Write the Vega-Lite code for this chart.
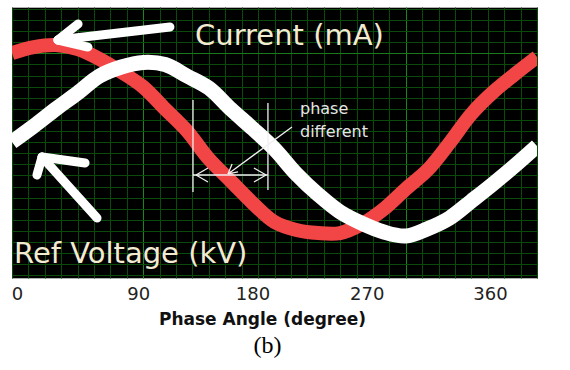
{
  "$schema": "https://vega.github.io/schema/vega-lite/v6.json",
  "width": 525,
  "height": 271,
  "autosize": "none",
  "padding": {"left": 12, "top": 7, "right": 33, "bottom": 92},
  "background": "white",
  "config": {"view": {"fill": "black", "stroke": "#b0b0b0", "strokeWidth": 1}},
  "title": {"text": "(b)", "orient": "bottom", "anchor": "middle", "font": "Liberation Serif", "fontSize": 24, "fontWeight": "normal", "color": "#000000", "offset": 7, "dx": -7},
  "datasets": {
    "curves": [
      {"deg": 0, "series": "Current (mA)", "value": 1.032},
      {"deg": 15, "series": "Current (mA)", "value": 1.101},
      {"deg": 30, "series": "Current (mA)", "value": 1.124},
      {"deg": 45, "series": "Current (mA)", "value": 1.078},
      {"deg": 60, "series": "Current (mA)", "value": 0.963},
      {"deg": 75, "series": "Current (mA)", "value": 0.813},
      {"deg": 90, "series": "Current (mA)", "value": 0.64},
      {"deg": 105, "series": "Current (mA)", "value": 0.386},
      {"deg": 120, "series": "Current (mA)", "value": 0.133},
      {"deg": 135, "series": "Current (mA)", "value": -0.19},
      {"deg": 150, "series": "Current (mA)", "value": -0.444},
      {"deg": 165, "series": "Current (mA)", "value": -0.698},
      {"deg": 180, "series": "Current (mA)", "value": -0.917},
      {"deg": 195, "series": "Current (mA)", "value": -1.009},
      {"deg": 210, "series": "Current (mA)", "value": -1.044},
      {"deg": 225, "series": "Current (mA)", "value": -1.044},
      {"deg": 240, "series": "Current (mA)", "value": -0.94},
      {"deg": 255, "series": "Current (mA)", "value": -0.767},
      {"deg": 270, "series": "Current (mA)", "value": -0.536},
      {"deg": 285, "series": "Current (mA)", "value": -0.317},
      {"deg": 300, "series": "Current (mA)", "value": -0.006},
      {"deg": 315, "series": "Current (mA)", "value": 0.329},
      {"deg": 330, "series": "Current (mA)", "value": 0.582},
      {"deg": 345, "series": "Current (mA)", "value": 0.79},
      {"deg": 360, "series": "Current (mA)", "value": 0.986},
      {"deg": 0, "series": "Ref Voltage (kV)", "value": 0.006},
      {"deg": 15, "series": "Ref Voltage (kV)", "value": 0.19},
      {"deg": 30, "series": "Ref Voltage (kV)", "value": 0.386},
      {"deg": 45, "series": "Ref Voltage (kV)", "value": 0.571},
      {"deg": 60, "series": "Ref Voltage (kV)", "value": 0.767},
      {"deg": 75, "series": "Ref Voltage (kV)", "value": 0.871},
      {"deg": 90, "series": "Ref Voltage (kV)", "value": 0.923},
      {"deg": 105, "series": "Ref Voltage (kV)", "value": 0.899},
      {"deg": 120, "series": "Ref Voltage (kV)", "value": 0.767},
      {"deg": 135, "series": "Ref Voltage (kV)", "value": 0.628},
      {"deg": 150, "series": "Ref Voltage (kV)", "value": 0.386},
      {"deg": 165, "series": "Ref Voltage (kV)", "value": 0.161},
      {"deg": 180, "series": "Ref Voltage (kV)", "value": -0.075},
      {"deg": 195, "series": "Ref Voltage (kV)", "value": -0.363},
      {"deg": 210, "series": "Ref Voltage (kV)", "value": -0.601},
      {"deg": 225, "series": "Ref Voltage (kV)", "value": -0.801},
      {"deg": 240, "series": "Ref Voltage (kV)", "value": -0.932},
      {"deg": 255, "series": "Ref Voltage (kV)", "value": -1.032},
      {"deg": 270, "series": "Ref Voltage (kV)", "value": -1.078},
      {"deg": 285, "series": "Ref Voltage (kV)", "value": -0.994},
      {"deg": 300, "series": "Ref Voltage (kV)", "value": -0.871},
      {"deg": 315, "series": "Ref Voltage (kV)", "value": -0.675},
      {"deg": 330, "series": "Ref Voltage (kV)", "value": -0.475},
      {"deg": 345, "series": "Ref Voltage (kV)", "value": -0.264},
      {"deg": 360, "series": "Ref Voltage (kV)", "value": -0.04}
    ],
    "bigArrows": [
      {"deg": 108.3, "value": 1.332, "deg2": 31.5, "value2": 1.182},
      {"deg": 31.5, "value": 1.182, "deg2": 45.3, "value2": 1.366},
      {"deg": 31.5, "value": 1.182, "deg2": 52.1, "value2": 1.101},
      {"deg": 58.3, "value": -0.871, "deg2": 20.6, "value2": -0.167},
      {"deg": 20.6, "value": -0.167, "deg2": 17.1, "value2": -0.375},
      {"deg": 20.6, "value": -0.167, "deg2": 50.1, "value2": -0.236}
    ],
    "phaseMarks": [
      {"deg": 124.1, "value": 0.49, "deg2": 124.1, "value2": -0.571},
      {"deg": 175.5, "value": 0.455, "deg2": 175.5, "value2": -0.548},
      {"deg": 124.1, "value": -0.375, "deg2": 175.5, "value2": -0.375},
      {"deg": 126.2, "value": -0.375, "deg2": 134.4, "value2": -0.294},
      {"deg": 126.2, "value": -0.375, "deg2": 134.4, "value2": -0.455},
      {"deg": 174.2, "value": -0.375, "deg2": 165.9, "value2": -0.294},
      {"deg": 174.2, "value": -0.375, "deg2": 165.9, "value2": -0.455},
      {"deg": 148.1, "value": -0.363, "deg2": 192, "value2": 0.179},
      {"deg": 148.1, "value": -0.363, "deg2": 150.9, "value2": -0.248},
      {"deg": 148.1, "value": -0.363, "deg2": 155.0, "value2": -0.34}
    ],
    "bigNotes": [
      {"deg": 125.5, "value": 1.124, "text": "Current (mA)"},
      {"deg": 1.4, "value": -1.39, "text": "Ref Voltage (kV)"}
    ],
    "smallNotes": [
      {"deg": 197.5, "value": 0.334, "text": "phase"},
      {"deg": 197.5, "value": 0.063, "text": "different"}
    ]
  },
  "encoding": {
    "x": {
      "field": "deg", "type": "quantitative",
      "scale": {"domain": [0, 360], "nice": false, "zero": false},
      "axis": {
        "values": [0, 11.25, 22.5, 33.75, 45, 56.25, 67.5, 78.75, 90, 101.25, 112.5, 123.75, 135, 146.25, 157.5, 168.75, 180, 191.25, 202.5, 213.75, 225, 236.25, 247.5, 258.75, 270, 281.25, 292.5, 303.75, 315, 326.25, 337.5, 348.75, 360],
        "grid": true,
        "gridColor": {"expr": "(datum.value == 90 || datum.value == 270) ? '#178817' : '#0a4a0a'"},
        "gridOpacity": 1,
        "gridWidth": 1,
        "ticks": false,
        "domain": false,
        "labelExpr": "datum.value % 90 == 0 ? datum.label : ''",
        "labelOffset": {"expr": "datum.value == 0 ? 5 : datum.value == 90 ? -5 : datum.value == 180 ? -22 : datum.value == 270 ? -39 : -47"},
        "labelFlush": false,
        "labelOverlap": false,
        "labelAlign": "center",
        "labelPadding": 7,
        "labelFont": "DejaVu Sans",
        "labelFontSize": 18,
        "labelColor": "#222222",
        "title": "Phase Angle (degree)",
        "titleFont": "DejaVu Sans",
        "titleFontSize": 17,
        "titleFontWeight": "bold",
        "titleColor": "#111111",
        "titleX": 250,
        "titleY": 46,
        "titleAlign": "center",
        "titleBaseline": "alphabetic"
      }
    },
    "y": {
      "field": "value", "type": "quantitative",
      "scale": {"domain": [-1.5625, 1.5625], "nice": false, "zero": false},
      "axis": {
        "values": [1.5406, 1.4126, 1.2846, 1.1566, 1.0286, 0.9006, 0.7726, 0.6446, 0.5166, 0.3886, 0.2606, 0.1326, 0.0046, -0.1234, -0.2514, -0.3794, -0.5074, -0.6354, -0.7634, -0.8914, -1.0194, -1.1474, -1.2754, -1.4034, -1.5314],
        "grid": true,
        "gridColor": {"expr": "abs(datum.value - 1.0286) < 0.01 ? '#1a7a1a' : '#0a4a0a'"},
        "gridOpacity": 1,
        "gridWidth": 1,
        "labels": false,
        "ticks": false,
        "domain": false,
        "title": null
      }
    }
  },
  "layer": [
    {
      "data": {"name": "curves"},
      "transform": [{"filter": "datum.series == 'Current (mA)'"}],
      "mark": {"type": "line", "color": "#f24545", "strokeWidth": 14, "interpolate": "catmull-rom", "clip": true, "strokeCap": "butt"}
    },
    {
      "data": {"name": "curves"},
      "transform": [{"filter": "datum.series == 'Ref Voltage (kV)'"}],
      "mark": {"type": "line", "color": "#ffffff", "strokeWidth": 15, "interpolate": "catmull-rom", "clip": true, "strokeCap": "butt"}
    },
    {
      "data": {"name": "bigArrows"},
      "mark": {"type": "rule", "color": "#ffffff", "strokeWidth": 9, "strokeCap": "round"},
      "encoding": {"x2": {"field": "deg2"}, "y2": {"field": "value2"}}
    },
    {
      "data": {"name": "phaseMarks"},
      "mark": {"type": "rule", "color": "#f0f0f0", "strokeWidth": 1.3},
      "encoding": {"x2": {"field": "deg2"}, "y2": {"field": "value2"}}
    },
    {
      "data": {"name": "bigNotes"},
      "mark": {"type": "text", "align": "left", "baseline": "alphabetic", "font": "DejaVu Sans", "fontSize": 29, "color": "#f3ead2"},
      "encoding": {"text": {"field": "text"}}
    },
    {
      "data": {"name": "smallNotes"},
      "mark": {"type": "text", "align": "left", "baseline": "alphabetic", "font": "DejaVu Sans", "fontSize": 16, "color": "#e6e6e6"},
      "encoding": {"text": {"field": "text"}}
    }
  ]
}
